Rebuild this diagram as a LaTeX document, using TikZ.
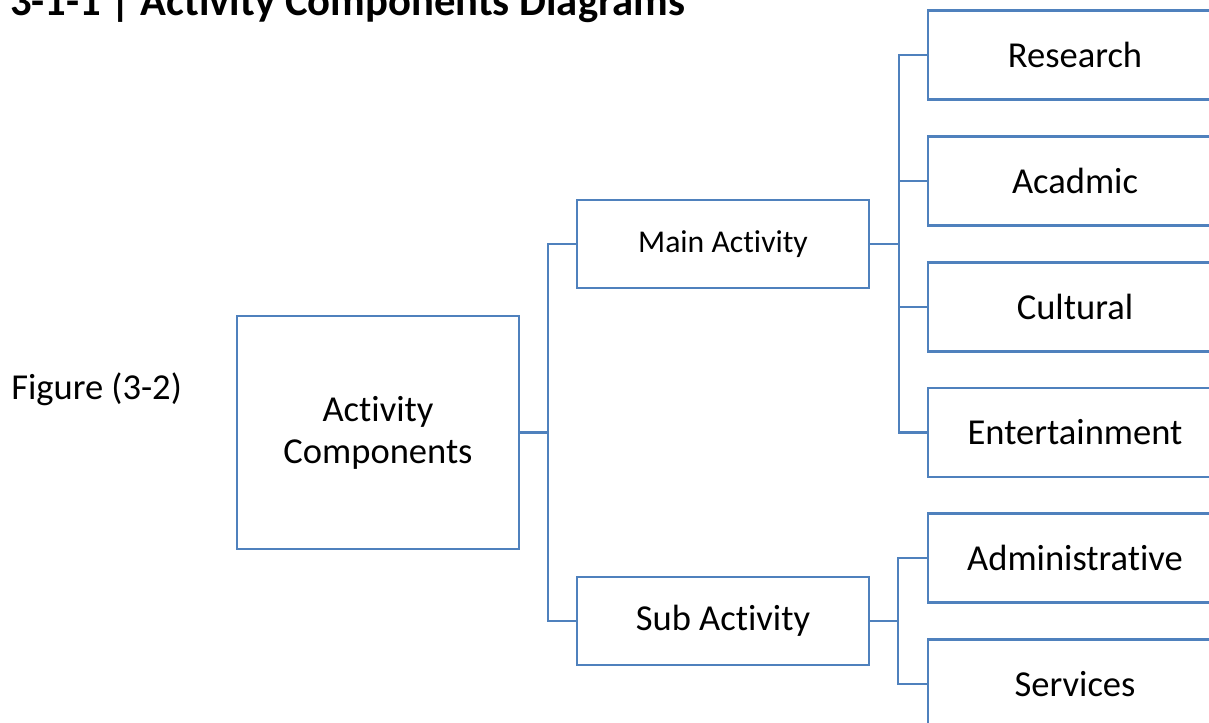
\documentclass[tikz,border=0pt]{standalone}
\usepackage{fontspec}
\setmainfont{Carlito}[Ligatures=CommonOff]
\definecolor{linkblue}{RGB}{79,129,189}
\tikzset{
  box/.style={draw=linkblue, line width=1.9pt, inner sep=0pt, align=center,
    font=\fontsize{27.4pt}{31.5pt}\selectfont},
  link/.style={draw=linkblue, line width=1.9pt},
}
\begin{document}
\begin{tikzpicture}[x=0.75pt,y=-0.75pt]
\useasboundingbox (0,0) rectangle (1209,723);
\clip (0,0) rectangle (1209,723);
% title and caption
\node[anchor=base west, inner sep=0pt, font=\fontsize{32pt}{38pt}\selectfont\bfseries] (title) at (10,16) {3-1-1 | Activity Components Diagrams};
\node[anchor=base west, inner sep=0pt, font=\fontsize{27.4pt}{31.5pt}\selectfont] (fig) at (11,399) {Figure (3-2)};
% boxes
\node[box, minimum width=282*0.75pt, minimum height=233*0.75pt] (ac) at (378,432.5) {Activity\\Components};
\node[box, minimum width=292*0.75pt, minimum height=88*0.75pt, font=\fontsize{23.8pt}{28pt}\selectfont] (main) at (723,244) {Main Activity};
\node[box, minimum width=292*0.75pt, minimum height=88*0.75pt] (sub) at (723,621) {Sub Activity};
\node[box, minimum width=294*0.75pt, minimum height=89*0.75pt] (res) at (1075,55) {Research};
\node[box, minimum width=294*0.75pt, minimum height=89*0.75pt] (aca) at (1075,181) {Acadmic};
\node[box, minimum width=294*0.75pt, minimum height=89*0.75pt] (cul) at (1075,307) {Cultural};
\node[box, minimum width=294*0.75pt, minimum height=89*0.75pt] (ent) at (1075,432.5) {Entertainment};
\node[box, minimum width=294*0.75pt, minimum height=89*0.75pt] (adm) at (1075,558) {Administrative};
\node[box, minimum width=294*0.75pt, minimum height=89*0.75pt] (ser) at (1075,684) {Services};
% bracket coordinates
\coordinate (b1) at (548,0);
\coordinate (b2) at (899,0);
\coordinate (b3) at (898,0);
% connectors
\draw[link] (ac.east) -- (b1 |- ac.east);
\draw[link] (main.west) -| (b1 |- sub.west) -- (sub.west);
\draw[link] (main.east) -- (b2 |- main.east);
\draw[link] (res.west) -| (b2 |- ent.west) -- (ent.west);
\draw[link] (aca.west) -- (b2 |- aca.west);
\draw[link] (cul.west) -- (b2 |- cul.west);
\draw[link] (sub.east) -- (b3 |- sub.east);
\draw[link] (adm.west) -| (b3 |- ser.west) -- (ser.west);
\end{tikzpicture}
\end{document}
